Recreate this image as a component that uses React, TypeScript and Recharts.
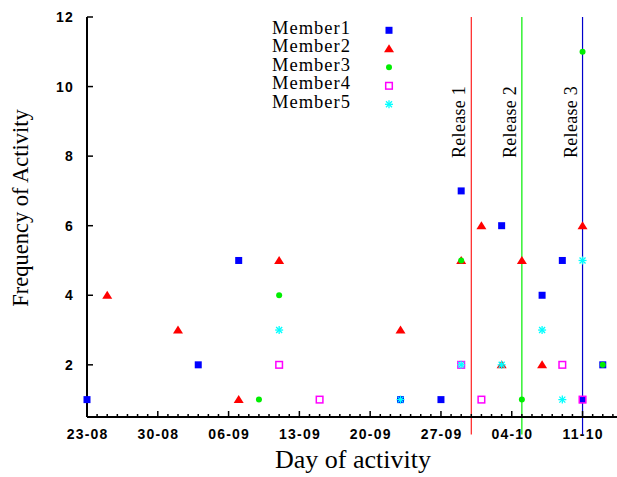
import React from "react"
import {
  ScatterChart,
  Scatter,
  XAxis,
  YAxis,
  ReferenceLine,
} from "recharts"

// dates are DD-MM, day 0 = 23-08
const member1: [string, number][] = [
  ["23-08", 1], ["03-09", 2], ["07-09", 5], ["23-09", 1], ["27-09", 1], ["29-09", 7],
  ["03-10", 6], ["07-10", 4], ["09-10", 5], ["11-10", 1], ["13-10", 2],
]
const member2: [string, number][] = [
  ["25-08", 4], ["01-09", 3], ["07-09", 1], ["11-09", 5], ["23-09", 3], ["29-09", 5],
  ["01-10", 6], ["03-10", 2], ["05-10", 5], ["07-10", 2], ["11-10", 6],
]
const member3: [string, number][] = [
  ["09-09", 1], ["11-09", 4], ["29-09", 5], ["05-10", 1], ["11-10", 11], ["13-10", 2],
]
const member4: [string, number][] = [
  ["11-09", 2], ["15-09", 1], ["29-09", 2], ["01-10", 1], ["09-10", 2], ["11-10", 1],
]
const member5: [string, number][] = [
  ["11-09", 3], ["23-09", 1], ["29-09", 2], ["03-10", 2], ["07-10", 3], ["09-10", 1], ["11-10", 5],
]

const tickLabels = ["23-08", "30-08", "06-09", "13-09", "20-09", "27-09", "04-10", "11-10"]
const yTicks = [2, 4, 6, 8, 10, 12]
const xStart = "23-08"
const xEnd = "15-10"

const releaseDates = ["30-09", "05-10", "11-10"]
const releaseNames = ["Release 1", "Release 2", "Release 3"]
const releaseColors = ["#ff2020", "#00ee00", "#0000cc"]

const START = Date.UTC(2012, 7, 23)
const dayOf = (s: string) => {
  const [d, m] = s.split("-").map(Number)
  return Math.round((Date.UTC(2012, m - 1, d) - START) / 86400000)
}
const toPoints = (rows: [string, number][]) => rows.map(([d, v]) => ({ x: dayOf(d), y: v }))

const xMin = dayOf(xStart)
const xMax = dayOf(xEnd)
const allDays = Array.from({ length: xMax - xMin + 1 }, (_, i) => xMin + i)
const weekDays = tickLabels.map(dayOf)

const TICK_FONT = "'Liberation Sans', Arial, sans-serif"
const SERIF = "'Liberation Serif', 'Times New Roman', serif"

// marker shapes
const Square = ({ cx, cy }: any) => <rect x={cx - 3.5} y={cy - 3.5} width={7} height={7} fill="#0000ff" />
const Triangle = ({ cx, cy }: any) => (
  <polygon points={`${cx - 5},${cy + 3.5} ${cx + 5},${cy + 3.5} ${cx},${cy - 4.5}`} fill="#ff0000" />
)
const Dot = ({ cx, cy }: any) => <circle cx={cx} cy={cy} r={3} fill="#00ee00" />
const OpenSquare = ({ cx, cy }: any) => (
  <rect x={cx - 3.3} y={cy - 3.3} width={6.6} height={6.6} fill="none" stroke="#ff00ff" strokeWidth={1.5} />
)
const Star = ({ cx, cy }: any) => (
  <g stroke="#00ffff" strokeWidth={1.3}>
    <line x1={cx - 4} y1={cy} x2={cx + 4} y2={cy} />
    <line x1={cx} y1={cy - 4} x2={cx} y2={cy + 4} />
    <line x1={cx - 3} y1={cy - 3} x2={cx + 3} y2={cy + 3} />
    <line x1={cx - 3} y1={cy + 3} x2={cx + 3} y2={cy - 3} />
  </g>
)

const series = [
  { name: "Member1", data: toPoints(member1), Shape: Square },
  { name: "Member2", data: toPoints(member2), Shape: Triangle },
  { name: "Member3", data: toPoints(member3), Shape: Dot },
  { name: "Member4", data: toPoints(member4), Shape: OpenSquare },
  { name: "Member5", data: toPoints(member5), Shape: Star },
]

const BottomTick = ({ x, y, payload }: any) => {
  const idx = weekDays.indexOf(payload.value)
  const major = idx >= 0
  return (
    <g>
      <line x1={x} y1={y} x2={x} y2={y - (major ? 6 : 3)} stroke="#000" strokeWidth={1.5} />
      {major && (
        <text x={x + 0.6} y={y + 22} textAnchor="middle" fontFamily={TICK_FONT} fontWeight="bold"
          fontSize={14} letterSpacing={1.2} fill="#000">
          {tickLabels[idx]}
        </text>
      )}
    </g>
  )
}

const TopTick = ({ x, y, payload }: any) => {
  const major = weekDays.includes(payload.value)
  return <line x1={x} y1={y} x2={x} y2={y + (major ? 6 : 3)} stroke="#000" strokeWidth={1.5} />
}

const LeftTick = ({ x, y, payload }: any) => (
  <g>
    <line x1={x} y1={y} x2={x + 6} y2={y} stroke="#000" strokeWidth={1.5} />
    <text x={x - 13} y={y + 5} textAnchor="end" fontFamily={TICK_FONT} fontWeight="bold"
      fontSize={14} letterSpacing={1.2} fill="#000">
      {payload.value}
    </text>
  </g>
)

export default function App() {
  return (
    <div style={{ position: "absolute", left: 0, top: 0, width: 617, height: 477, overflow: "hidden", background: "#fff" }}>
      <ScatterChart width={625} height={477} margin={{ top: 17, right: 2, bottom: 20, left: 27 }}>
        <XAxis
          xAxisId="top"
          orientation="top"
          type="number"
          dataKey="x"
          domain={[xMin, xMax]}
          allowDataOverflow
          ticks={allDays}
          interval={0}
          height={0}
          tickSize={0}
          tickMargin={0}
          tickLine={false}
          tick={<TopTick />}
          axisLine={{ stroke: "#000", strokeWidth: 2 }}
        />
        <XAxis
          xAxisId="main"
          type="number"
          dataKey="x"
          domain={[xMin, xMax]}
          ticks={allDays}
          interval={0}
          height={40}
          tickSize={0}
          tickMargin={0}
          tickLine={false}
          tick={<BottomTick />}
          axisLine={{ stroke: "#000", strokeWidth: 2 }}
        />
        <YAxis
          type="number"
          dataKey="y"
          domain={[0.5, 12]}
          ticks={yTicks}
          interval={0}
          width={60}
          tickSize={0}
          tickMargin={0}
          tickLine={false}
          tick={<LeftTick />}
          axisLine={{ stroke: "#000", strokeWidth: 2 }}
        />
        {releaseDates.map((d, i) => (
          <ReferenceLine
            key={d}
            xAxisId="main"
            segment={[{ x: dayOf(d), y: 0 }, { x: dayOf(d), y: 12 }]}
            ifOverflow="visible"
            stroke={releaseColors[i]}
            strokeWidth={1.2}
            label={(p: any) => {
              const vb = p.viewBox
              const tx = vb.x - 6
              const ty = vb.y + 141
              return (
                <text x={tx} y={ty} transform={`rotate(-90, ${tx}, ${ty})`} fontFamily={SERIF}
                  fontSize={18} letterSpacing={0.3} fill="#000">
                  {releaseNames[i]}
                </text>
              )
            }}
          />
        ))}
        {series.map((s) => (
          <Scatter
            key={s.name}
            xAxisId="main"
            name={s.name}
            data={s.data}
            isAnimationActive={false}
            shape={(p: any) => <s.Shape cx={p.cx} cy={p.cy} />}
          />
        ))}
      </ScatterChart>
      <svg width={617} height={477} style={{ position: "absolute", left: 0, top: 0, pointerEvents: "none" }}>
        {series.map((s, i) => {
          const cy = 30.3 + i * 18.5
          return (
            <g key={s.name}>
              <text x={351} y={cy + 3.5} textAnchor="end" fontFamily={SERIF} fontSize={18.5}
                letterSpacing={1} fill="#000">
                {s.name}
              </text>
              <s.Shape cx={389} cy={cy} />
            </g>
          )
        })}
        <text x={28} y={208} transform="rotate(-90, 28, 208)" textAnchor="middle" fontFamily={SERIF}
          fontSize={22.5} fill="#000">
          Frequency of Activity
        </text>
        <text x={353} y={468} textAnchor="middle" fontFamily={SERIF} fontSize={26} fill="#000">
          Day of activity
        </text>
      </svg>
    </div>
  )
}
